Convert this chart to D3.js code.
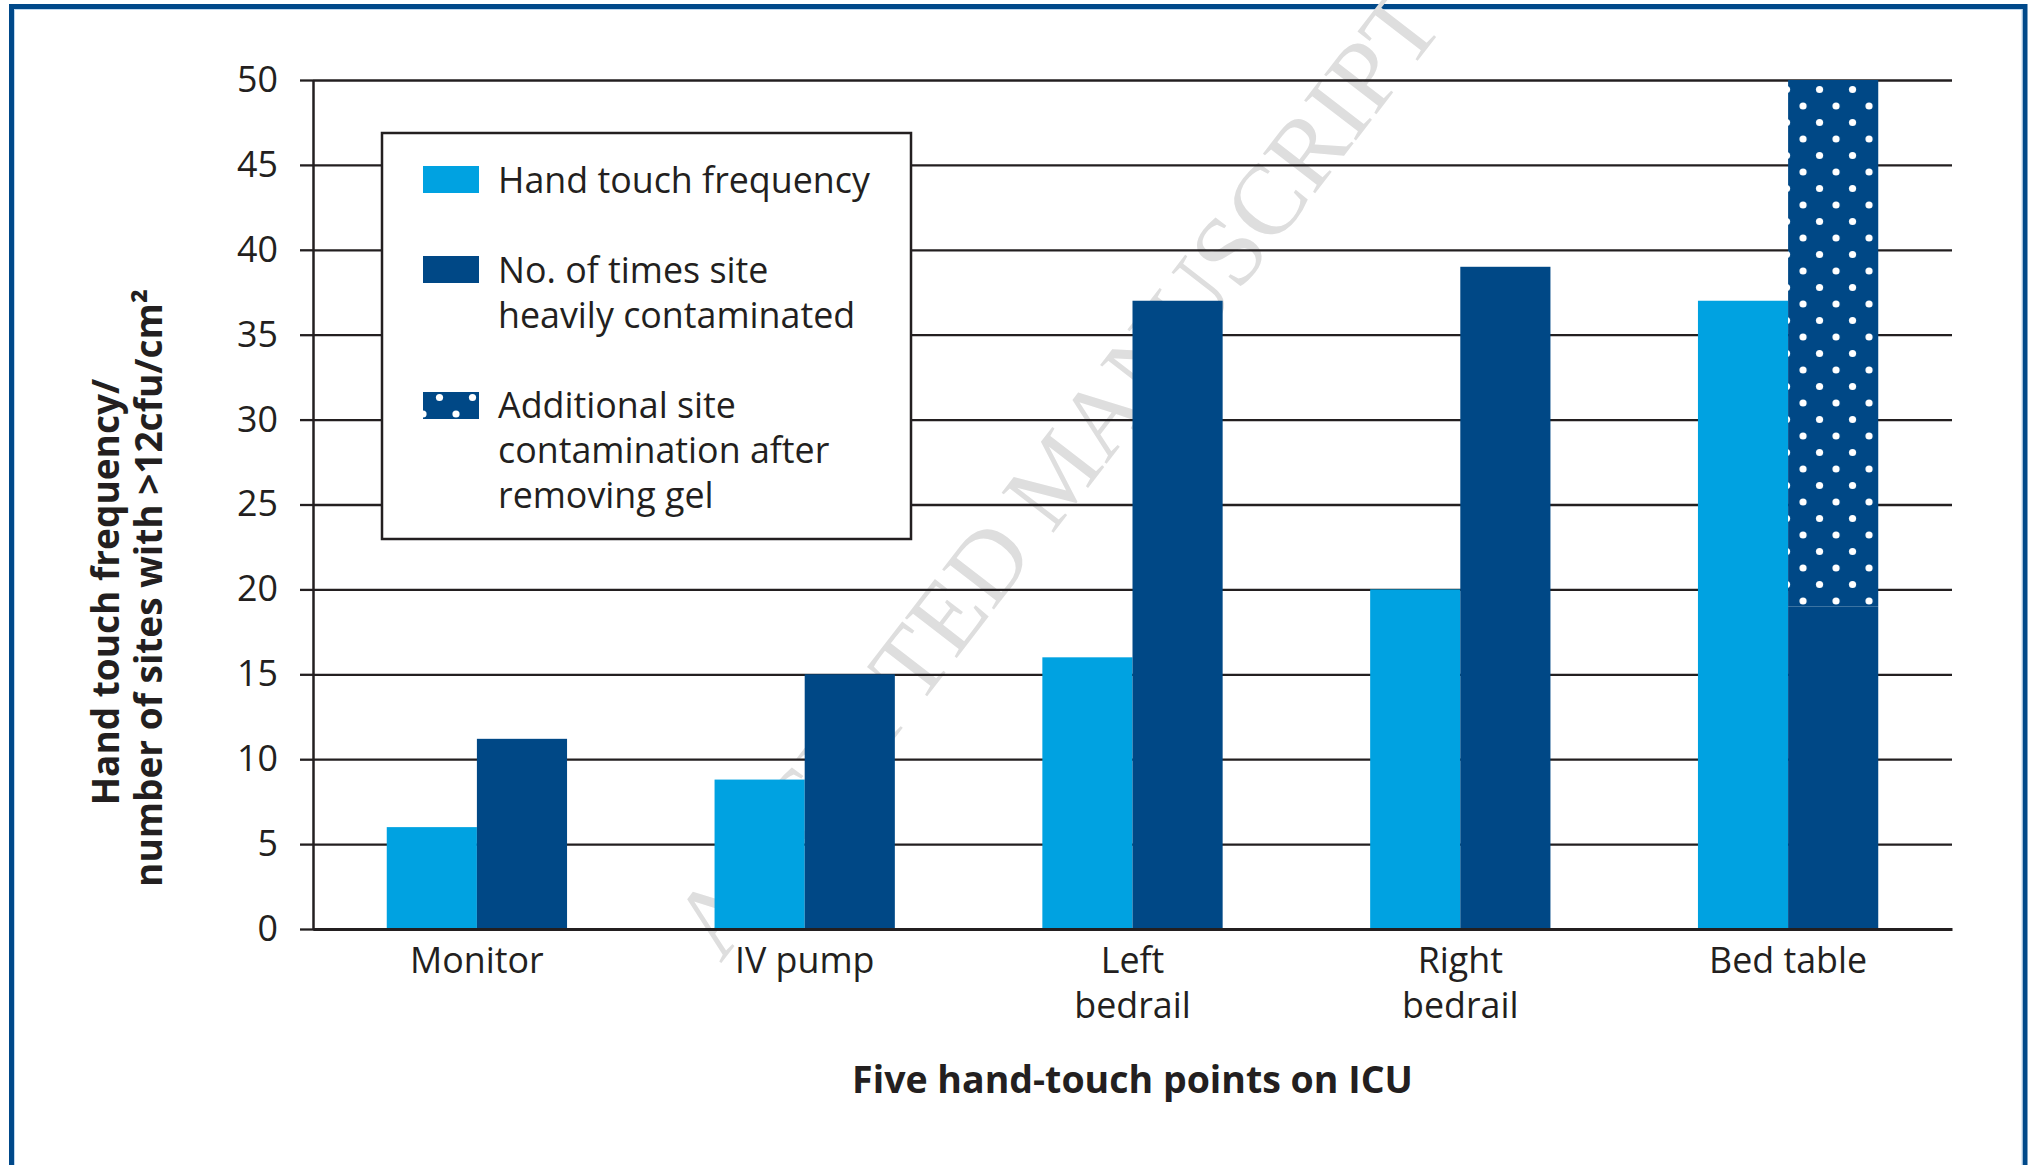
<!DOCTYPE html>
<html>
<head>
<meta charset="utf-8">
<script src="https://d3js.org/d3.v7.min.js"></script>
<style>
  body { margin: 0; background: #fff; }
  svg text { font-family: 'Open Sans', sans-serif; fill: #231f20; }
</style>
</head>
<body>
<div id="chart"></div>
<script>
// values
var sites = ['Monitor', 'IV pump', 'Left bedrail', 'Right bedrail', 'Bed table'];
var siteLines = [['Monitor'], ['IV pump'], ['Left', 'bedrail'], ['Right', 'bedrail'], ['Bed table']];
var handTouch = [6, 8.8, 16, 20, 37];
var heavyContam = [11.2, 15, 37, 39, 19];
var afterGel = [0, 0, 0, 0, 31];
var yTicks = [0, 5, 10, 15, 20, 25, 30, 35, 40, 45, 50];
var legendLabels = [
  ['Hand touch frequency'],
  ['No. of times site', 'heavily contaminated'],
  ['Additional site', 'contamination after', 'removing gel']
];

var lightBlue = '#00a2e1';
var darkBlue = '#004886';
var ink = '#231f20';

// svg size and margins
var svgWidth = 2029;
var svgHeight = 1165;
var margin = { top: 80, right: 77, bottom: 236, left: 313 };
var width = svgWidth - margin.left - margin.right;
var height = svgHeight - margin.top - margin.bottom;

var svg = d3.select('#chart')
  .append('svg')
  .attr('width', svgWidth)
  .attr('height', svgHeight);

// outer frame, its bottom edge runs off the picture
svg.append('rect')
  .attr('x', 11.5).attr('y', 6.5)
  .attr('width', 2013.5).attr('height', 1300)
  .attr('fill', 'none')
  .attr('stroke', '#00498a')
  .attr('stroke-width', 5);
svg.append('rect')
  .attr('x', 14.5).attr('y', 9.5)
  .attr('width', 2007.5).attr('height', 1300)
  .attr('fill', 'none')
  .attr('stroke', '#bcd6ee')
  .attr('stroke-width', 1);

// scales
var x0 = d3.scaleBand()
  .domain(sites)
  .range([0, width])
  .paddingInner(0.45)
  .paddingOuter(0.225);

var x1 = d3.scaleBand()
  .domain(['hand', 'heavy'])
  .range([0, x0.bandwidth()]);

var y = d3.scaleLinear()
  .domain([0, 50])
  .range([height, 0]);

// dotted fill, tiles start at a given point so the dots line up like the original
var defs = svg.append('defs');
function dotPattern(id, ox, oy) {
  var p = defs.append('pattern')
    .attr('id', id)
    .attr('patternUnits', 'userSpaceOnUse')
    .attr('x', ox).attr('y', oy)
    .attr('width', 33).attr('height', 33);
  p.append('rect').attr('width', 33).attr('height', 33).attr('fill', darkBlue);
  [[0, 0], [33, 0], [0, 33], [33, 33], [16.5, 16.5]].forEach(function(c) {
    p.append('circle').attr('cx', c[0]).attr('cy', c[1]).attr('r', 3.6).attr('fill', '#fff');
  });
}
var gelIndex = afterGel.findIndex(d => d > 0);
dotPattern('dotsBar',
  margin.left + x0(sites[gelIndex]) + x1('heavy'),
  margin.top + y(heavyContam[gelIndex] + afterGel[gelIndex]) + 12);
dotPattern('dotsKey', 423, 414);

// watermark
svg.append('text')
  .attr('transform', 'translate(1057,474) rotate(-52.35)')
  .attr('y', 33)
  .attr('text-anchor', 'middle')
  .style('font-family', "'Liberation Serif', serif")
  .style('font-size', '100px')
  .style('fill', '#dedede')
  .text('ACCEPTED MANUSCRIPT');

var chart = svg.append('g')
  .attr('transform', `translate(${margin.left}, ${margin.top})`);

// gridlines
chart.append('g')
  .attr('class', 'grid')
  .call(d3.axisLeft(y).tickValues(yTicks).tickSize(-width).tickFormat(''))
  .call(g => g.select('.domain').remove())
  .call(g => g.selectAll('line').attr('stroke', ink).attr('stroke-width', 2.3));

// bars
var groups = chart.selectAll('.site')
  .data(sites)
  .enter()
  .append('g')
  .attr('transform', d => `translate(${x0(d)},0)`);

groups.append('rect')
  .attr('x', x1('hand'))
  .attr('y', (d, i) => y(handTouch[i]))
  .attr('width', x1.bandwidth())
  .attr('height', (d, i) => height - y(handTouch[i]))
  .attr('fill', lightBlue);

groups.append('rect')
  .attr('x', x1('heavy'))
  .attr('y', (d, i) => y(heavyContam[i]))
  .attr('width', x1.bandwidth())
  .attr('height', (d, i) => height - y(heavyContam[i]))
  .attr('fill', darkBlue);

groups.filter((d, i) => afterGel[i] > 0)
  .append('rect')
  .attr('x', x1('heavy'))
  .attr('y', d => { var i = sites.indexOf(d); return y(heavyContam[i] + afterGel[i]); })
  .attr('width', x1.bandwidth())
  .attr('height', d => { var i = sites.indexOf(d); return y(heavyContam[i]) - y(heavyContam[i] + afterGel[i]); })
  .attr('fill', 'url(#dotsBar)');

// y axis
chart.append('g')
  .call(d3.axisLeft(y).tickValues(yTicks).tickSize(13).tickPadding(22).tickSizeOuter(0))
  .call(g => g.select('.domain').attr('stroke', ink).attr('stroke-width', 2.5))
  .call(g => g.selectAll('.tick line').attr('stroke', ink).attr('stroke-width', 2.3))
  .call(g => g.selectAll('.tick text')
    .attr('fill', ink)
    .style('font-family', "'Open Sans', sans-serif")
    .style('font-size', '35.8px'));

// x axis
var xAxis = chart.append('g')
  .attr('transform', `translate(0,${height})`)
  .call(d3.axisBottom(x0).tickSize(0).tickSizeOuter(0).tickFormat(''));
xAxis.select('.domain').attr('stroke', ink).attr('stroke-width', 3.2);
xAxis.selectAll('.tick').each(function(d, i) {
  var t = d3.select(this).append('text')
    .attr('text-anchor', 'middle')
    .style('font-family', "'Open Sans', sans-serif")
    .style('font-size', '35.8px')
    .attr('fill', ink);
  siteLines[i].forEach(function(line, k) {
    t.append('tspan').attr('x', 0).attr('y', 44 + k * 45).text(line);
  });
});

// axis titles
svg.append('text')
  .attr('x', margin.left + width / 2)
  .attr('y', 1093)
  .attr('text-anchor', 'middle')
  .style('font-size', '37.5px')
  .style('font-weight', 'bold')
  .text('Five hand-touch points on ICU');

svg.append('text')
  .attr('transform', 'translate(119,592) rotate(-90)')
  .attr('text-anchor', 'middle')
  .style('font-size', '37px')
  .style('font-weight', 'bold')
  .text('Hand touch frequency/');

svg.append('text')
  .attr('transform', 'translate(162,588) rotate(-90)')
  .attr('text-anchor', 'middle')
  .style('font-size', '37px')
  .style('font-weight', 'bold')
  .text('number of sites with >12cfu/cm²');

// legend
var legend = svg.append('g');
legend.append('rect')
  .attr('x', 382).attr('y', 133)
  .attr('width', 529).attr('height', 406)
  .attr('fill', '#fff')
  .attr('stroke', ink)
  .attr('stroke-width', 2.5);

var keyFills = [lightBlue, darkBlue, 'url(#dotsKey)'];
var keyTops = [166, 256, 392];
var keyBaselines = [193, 283, 418];

legendLabels.forEach(function(lines, i) {
  legend.append('rect')
    .attr('x', 423).attr('y', keyTops[i])
    .attr('width', 56).attr('height', 27)
    .attr('fill', keyFills[i]);
  var t = legend.append('text')
    .style('font-size', '35.8px');
  lines.forEach(function(line, k) {
    t.append('tspan').attr('x', 498).attr('y', keyBaselines[i] + k * 45).text(line);
  });
});
</script>
</body>
</html>
